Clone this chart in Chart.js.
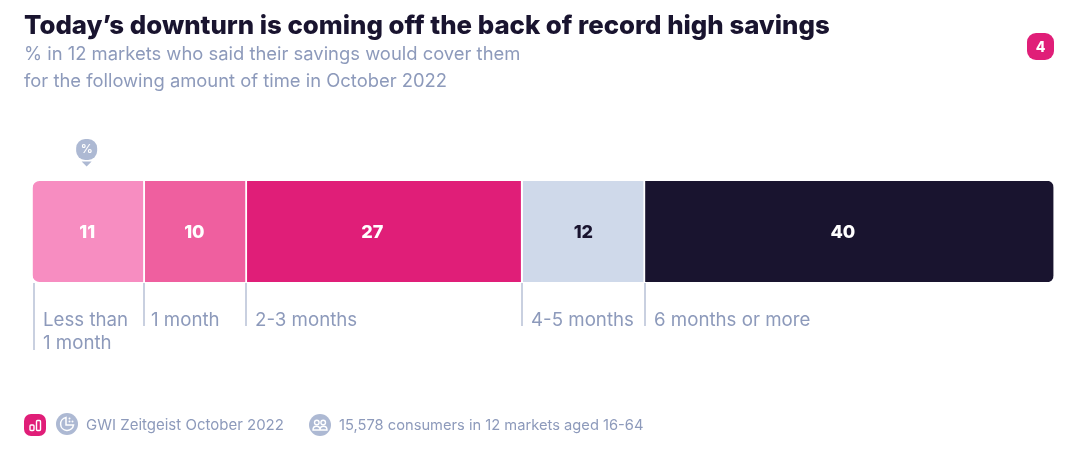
<!DOCTYPE html>
<html>
<head>
<meta charset="utf-8">
<title>Savings chart</title>
<script src="https://cdn.jsdelivr.net/npm/chart.js@4/dist/chart.umd.min.js"></script>
<style>
  html, body { margin: 0; padding: 0; background: #fff; }
  body { width: 1080px; height: 458px; position: relative; overflow: hidden; font-family: Inter, sans-serif; }
  #chart { position: absolute; left: 0; top: 0; }
  .txt { position: absolute; white-space: nowrap; color: #8d9abb; }
  #title { left: 24px; top: 8px; font-size: 25.8px; line-height: 34px; font-weight: 800; color: #19142f; }
  #sub { left: 24px; top: 40px; font-size: 18.4px; line-height: 27px; }
  .foot { font-size: 15px; line-height: 20px; top: 415px; }
  .ico { position: absolute; }
</style>
</head>
<body>
<canvas id="chart" width="1080" height="458"></canvas>
<div class="txt" id="title">Today’s downturn is coming off the back of record high savings</div>
<div class="txt" id="sub">% in 12 markets who said their savings would cover them<br>for the following amount of time in October 2022</div>

<svg class="ico" style="left:1027px;top:33px" width="27" height="27">
  <rect width="27" height="27" rx="9" fill="#e01e78"/>
  <text x="13.5" y="19" text-anchor="middle" font-family="Inter" font-weight="800" font-size="14" fill="#fff">4</text>
</svg>

<svg class="ico" style="left:24px;top:414px" width="22" height="22">
  <rect width="22" height="22" rx="7" fill="#e01e78"/>
  <rect x="6" y="11" width="4" height="5.5" rx="1" fill="none" stroke="#fff" stroke-width="1.4"/>
  <rect x="12.5" y="6.5" width="4" height="10" rx="1" fill="none" stroke="#fff" stroke-width="1.4"/>
</svg>
<svg class="ico" style="left:56px;top:413px" width="22" height="22">
  <circle cx="11" cy="11" r="11" fill="#adb9d3"/>
  <path d="M10 4.5a6.5 6.5 0 1 0 7.5 7.5h-7.5z" fill="none" stroke="#fff" stroke-width="1.5"/>
  <circle cx="13.5" cy="5.5" r="1" fill="#fff"/><circle cx="16.5" cy="8.5" r="1" fill="#fff"/><circle cx="13.5" cy="8.5" r="1" fill="#fff"/>
</svg>
<div class="txt foot" id="source" style="left:86px">GWI Zeitgeist October 2022</div>
<svg class="ico" style="left:309px;top:414px" width="22" height="22">
  <circle cx="11" cy="11" r="11" fill="#adb9d3"/>
  <circle cx="7.8" cy="8.5" r="2.3" fill="none" stroke="#fff" stroke-width="1.4"/>
  <circle cx="14.2" cy="8.5" r="2.3" fill="none" stroke="#fff" stroke-width="1.4"/>
  <path d="M4 16c0-5 7-5 7 0zM11 16c0-5 7-5 7 0z" fill="none" stroke="#fff" stroke-width="1.4"/>
</svg>
<div class="txt foot" id="sample" style="left:339px;font-size:14.7px">15,578 consumers in 12 markets aged 16-64</div>

<script>
const categories = [["Less than", "1 month"], ["1 month"], ["2-3 months"], ["4-5 months"], ["6 months or more"]];
const values = [11, 10, 27, 12, 40];
const barColors = ["#f78dc1", "#ef5f9f", "#e01e78", "#cfd9ea", "#19142f"];
const valueColors = ["#ffffff", "#ffffff", "#ffffff", "#19142f", "#ffffff"];
// the source does not quite centre its numbers in the segments
const valueNudge = [-1.5, -1.5, -12.5, -0.5, -6.5];

const labelFont = "18.7px Inter";
const greyText = "#8d9abb";
const greyLine = "#a5b1cb";

// value labels, leader lines and the little % marker
const segmentDecor = {
  id: "segmentDecor",
  afterDraw(chart) {
    const ctx = chart.ctx;
    const x = chart.scales.x;
    const area = chart.chartArea;
    let running = 0;
    ctx.save();
    values.forEach((v, i) => {
      const left = x.getPixelForValue(running);
      const mid = x.getPixelForValue(running + v / 2);
      running += v;

      ctx.font = "800 18px Inter";
      ctx.fillStyle = valueColors[i];
      ctx.textAlign = "center";
      ctx.textBaseline = "middle";
      ctx.fillText(String(v), mid + valueNudge[i], (area.top + area.bottom) / 2 + 1);

      const lines = categories[i];
      ctx.strokeStyle = greyLine;
      ctx.lineWidth = 1.2;
      ctx.beginPath();
      const lineX = Math.floor(left) + (i === 0 ? 2 : 0);
      ctx.moveTo(lineX, area.bottom + 1);
      ctx.lineTo(lineX, lines.length > 1 ? 350 : 326);
      ctx.stroke();

      ctx.font = labelFont;
      ctx.fillStyle = greyText;
      ctx.textAlign = "left";
      ctx.textBaseline = "alphabetic";
      lines.forEach((line, n) => {
        ctx.fillText(line, lineX + (i === 1 ? 7 : 9), 326 + n * 23);
      });
    });

    // % marker above the first segment
    const mx = x.getPixelForValue(values[0] / 2) - 2;
    ctx.fillStyle = "#adb9d3";
    ctx.beginPath();
    ctx.roundRect(mx - 10.5, 139, 21, 21, 9);
    ctx.fill();
    ctx.beginPath();
    ctx.moveTo(mx - 5, 161.5);
    ctx.lineTo(mx + 5, 161.5);
    ctx.lineTo(mx, 166.5);
    ctx.closePath();
    ctx.fill();
    ctx.fillStyle = "#ffffff";
    ctx.font = "600 12px Inter";
    ctx.textAlign = "center";
    ctx.textBaseline = "middle";
    ctx.fillText("%", mx, 149.5);
    ctx.restore();
  }
};

new Chart(document.getElementById("chart"), {
  type: "bar",
  data: {
    labels: ["share"],
    datasets: values.map((v, i) => ({
      label: categories[i].join(" "),
      data: [v],
      backgroundColor: barColors[i],
      borderColor: "#ffffff",
      borderWidth: i < values.length - 1 ? { right: 2 } : 0,
      borderSkipped: false,
      borderRadius: i === 0 ? { topLeft: 7, bottomLeft: 7 } : i === values.length - 1 ? { topRight: 7, bottomRight: 7 } : 0,
      barPercentage: 1,
      categoryPercentage: 1
    }))
  },
  options: {
    indexAxis: "y",
    responsive: false,
    animation: false,
    layout: { padding: { left: 32.5, right: 26.5, top: 181, bottom: 176 } },
    scales: {
      x: { stacked: true, min: 0, max: 100, display: false },
      y: { stacked: true, display: false }
    },
    plugins: { legend: { display: false }, tooltip: { enabled: false } }
  },
  plugins: [segmentDecor]
});
</script>
</body>
</html>
